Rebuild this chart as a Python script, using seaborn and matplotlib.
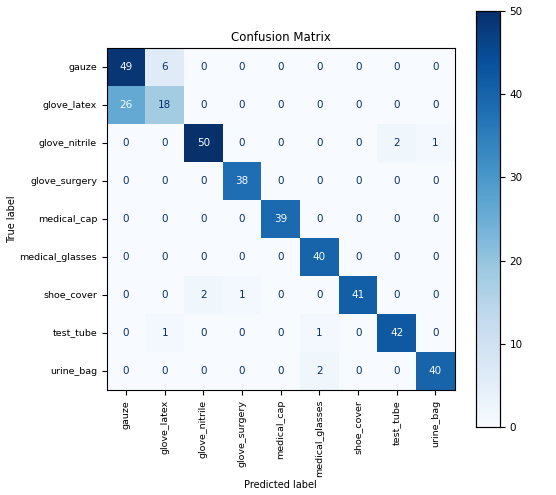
import numpy as np
import pandas as pd
import matplotlib
matplotlib.use("Agg")
import matplotlib.pyplot as plt
import seaborn as sns

# Klassen und Werte der Konfusionsmatrix
labels = ['gauze', 'glove_latex', 'glove_nitrile', 'glove_surgery', 'medical_cap',
          'medical_glasses', 'shoe_cover', 'test_tube', 'urine_bag']
row_gauze = [49, 6, 0, 0, 0, 0, 0, 0, 0]
row_glove_latex = [26, 18, 0, 0, 0, 0, 0, 0, 0]
row_glove_nitrile = [0, 0, 50, 0, 0, 0, 0, 2, 1]
row_glove_surgery = [0, 0, 0, 38, 0, 0, 0, 0, 0]
row_medical_cap = [0, 0, 0, 0, 39, 0, 0, 0, 0]
row_medical_glasses = [0, 0, 0, 0, 0, 40, 0, 0, 0]
row_shoe_cover = [0, 0, 2, 1, 0, 0, 41, 0, 0]
row_test_tube = [0, 1, 0, 0, 0, 1, 0, 42, 0]
row_urine_bag = [0, 0, 0, 0, 0, 2, 0, 0, 40]
cbar_ticks = [0, 10, 20, 30, 40, 50]

cm = pd.DataFrame(
    [row_gauze, row_glove_latex, row_glove_nitrile, row_glove_surgery, row_medical_cap,
     row_medical_glasses, row_shoe_cover, row_test_tube, row_urine_bag],
    index=labels, columns=labels
)

fig = plt.figure(figsize=(5.56, 4.95), dpi=100)
ax = fig.add_axes([0.192, 0.212, 0.626, 0.691])
cax = fig.add_axes([0.856, 0.137, 0.043, 0.841])

cmap = plt.get_cmap('Blues')
sns.heatmap(cm, annot=True, fmt='d', cmap=cmap, vmin=0, vmax=50,
            cbar_ax=cax, ax=ax, square=False,
            annot_kws={'fontsize': 7.5})

# Textfarbe wie bei sklearn: hell auf dunklen Feldern
thresh = (cm.values.max() + cm.values.min()) / 2
for txt in ax.texts:
    v = int(txt.get_text())
    txt.set_color(cmap(0.0) if v > thresh else cmap(1.0))

for s in ax.spines.values():
    s.set_visible(True)
    s.set_linewidth(0.8)

ax.set_title('Confusion Matrix', fontsize=8.5, pad=5)
ax.set_xlabel('Predicted label', fontsize=7, labelpad=2)
ax.set_ylabel('True label', fontsize=7, labelpad=2)
ax.set_xticklabels(labels, rotation=90, fontsize=6.8)
ax.set_yticklabels(labels, rotation=0, fontsize=6.8)
ax.tick_params(axis='both', length=3.5, width=0.8)

cax.set_yticks(cbar_ticks)
cax.tick_params(labelsize=7.5, length=3.5, width=0.8)
for s in cax.spines.values():
    s.set_visible(True)
    s.set_linewidth(0.8)

fig.savefig('out.png', dpi=100)
